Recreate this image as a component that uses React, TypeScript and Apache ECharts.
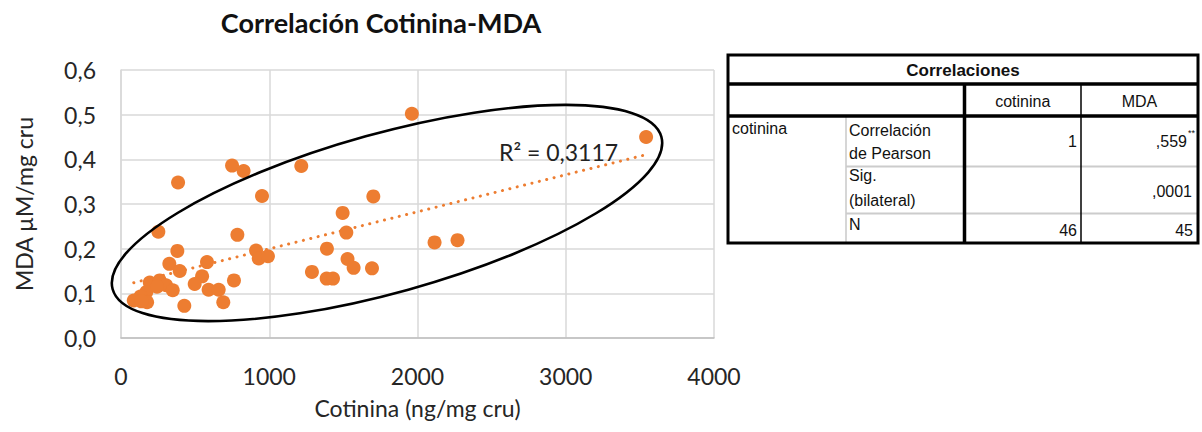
import React, { useEffect, useRef } from "react";
import * as echarts from "echarts";

// Cotinina (ng/mg cru) and MDA (µM/mg cru) per subject
const cotinina = [
  1962, 749, 827, 1216, 385, 951, 1702, 1495, 252, 785, 1520, 380, 911, 1389, 929,
  991, 326, 580, 1528, 1569, 1693, 396, 1288, 1387, 1430, 194, 261, 304, 547, 497,
  762, 349, 591, 659, 171, 131, 86, 176, 690, 427, 3542, 2115, 2270, 243, 138,
];
const mda = [
  0.502, 0.386, 0.374, 0.385, 0.348, 0.318, 0.317, 0.28, 0.238, 0.231, 0.236, 0.195,
  0.196, 0.2, 0.178, 0.183, 0.166, 0.17, 0.177, 0.157, 0.156, 0.15, 0.148, 0.133,
  0.133, 0.124, 0.129, 0.118, 0.138, 0.121, 0.129, 0.107, 0.108, 0.108, 0.103,
  0.093, 0.084, 0.08, 0.08, 0.072, 0.45, 0.214, 0.219, 0.115, 0.082,
];

const xTicks = [0, 1000, 2000, 3000, 4000];
const yTicks = [0, 0.1, 0.2, 0.3, 0.4, 0.5, 0.6];
const r2Label = "R² = 0,3117";

// SPSS correlation table content
const tableTitle = "Correlaciones";
const tableHeader = ["cotinina", "MDA"];
const rowVariable = "cotinina";
const statLabels = [["Correlación", "de Pearson"], ["Sig.", "(bilateral)"], ["N"]];
const cotininaCol = ["1", "", "46"];
const mdaCol = [",559", ",0001", "45"];

const ORANGE = "#ED7D31";
const CHART_FONT = "Lato";
const TABLE_FONT = "Liberation Sans";

function linearFit(xs: number[], ys: number[]) {
  const n = xs.length;
  const mx = xs.reduce((a, b) => a + b, 0) / n;
  const my = ys.reduce((a, b) => a + b, 0) / n;
  let sxy = 0;
  let sxx = 0;
  for (let i = 0; i < n; i++) {
    sxy += (xs[i] - mx) * (ys[i] - my);
    sxx += (xs[i] - mx) * (xs[i] - mx);
  }
  const slope = sxy / sxx;
  return { slope, intercept: my - slope * mx };
}

function tableGraphics() {
  const L = 728, R = 1198, T = 55, B = 243;
  const yTitle = 84, yHead = 116, yR1 = 166.5, yR2 = 213.5;
  const c2 = 846, c3 = 964.5, c4 = 1081;
  const els: any[] = [];
  const line = (x1: number, y1: number, x2: number, y2: number, stroke: string, w: number) =>
    els.push({ type: "line", shape: { x1, y1, x2, y2 }, style: { stroke, lineWidth: w }, silent: true });
  const text = (t: string, x: number, y: number, align: string, opts: any = {}) =>
    els.push({
      type: "text",
      x,
      y,
      style: {
        text: t,
        fill: "#111",
        font: `${opts.bold ? "bold " : ""}${opts.size || 16}px "${TABLE_FONT}"`,
        align,
        verticalAlign: "middle",
      },
      silent: true,
    });

  // light separators
  line(c2, yHead, c2, B, "#c8c8c8", 1.5);
  line(c2, yR1, R, yR1, "#cccccc", 2);
  line(c2, yR2, R, yR2, "#cccccc", 2);
  // dark rules
  line(c4, yTitle, c4, B, "#000", 1.5);
  line(c3, yTitle, c3, B, "#000", 3.5);
  line(L, yTitle, R, yTitle, "#000", 3.5);
  line(L, yHead, R, yHead, "#000", 3.5);
  els.push({
    type: "rect",
    shape: { x: L, y: T, width: R - L, height: B - T },
    style: { fill: "none", stroke: "#000", lineWidth: 3 },
    silent: true,
  });

  text(tableTitle, (L + R) / 2, 70, "center", { bold: true, size: 17 });
  text(tableHeader[0], (c3 + c4) / 2, 101, "center");
  text(tableHeader[1], (c4 + R) / 2, 101, "center");
  text(rowVariable, 732, 128, "left");

  const rowLines = [[130, 153], [175, 200], [224]];
  statLabels.forEach((lbls, i) => lbls.forEach((l, j) => text(l, 849, rowLines[i][j], "left")));
  const valY = [141, 191, 230];
  cotininaCol.forEach((v, i) => v && text(v, 1077, valY[i], "right"));
  const mdaRight = [1187, 1192, 1193];
  mdaCol.forEach((v, i) => text(v, mdaRight[i], valY[i], "right"));
  els.push({
    type: "text",
    x: 1188,
    y: 128,
    style: { text: "**", fill: "#111", font: `9px "${TABLE_FONT}"`, align: "left", verticalAlign: "top" },
    silent: true,
  });
  return els;
}

export default function App() {
  const ref = useRef<HTMLDivElement>(null);

  useEffect(() => {
    if (!ref.current) return;
    const chart = echarts.init(ref.current, null, { renderer: "svg" });

    const points = cotinina.map((x, i) => [x, mda[i]]);
    const { slope, intercept } = linearFit(cotinina, mda);
    const xMin = Math.min(...cotinina);
    const xMax = Math.max(...cotinina);
    const trend = [
      [xMin, intercept + slope * xMin],
      [xMax, intercept + slope * xMax],
    ];

    const labelColor = "#262626";

    chart.setOption({
      animation: false,
      backgroundColor: "#fff",
      textStyle: { fontFamily: CHART_FONT },
      title: {
        text: "Correlación Cotinina-MDA",
        left: 376,
        top: 4,
        textAlign: "center",
        textStyle: { fontFamily: CHART_FONT, fontWeight: "bold", fontSize: 27, color: "#111" },
      },
      grid: { left: 121, top: 70, width: 593, height: 268 },
      xAxis: {
        type: "value",
        min: xTicks[0],
        max: xTicks[xTicks.length - 1],
        interval: xTicks[1] - xTicks[0],
        name: "Cotinina (ng/mg cru)",
        nameLocation: "middle",
        nameGap: 58,
        nameTextStyle: { fontSize: 23, color: labelColor, fontFamily: CHART_FONT },
        axisLine: { show: true, lineStyle: { color: "#bfbfbf", width: 1.5 } },
        axisTick: { show: false },
        axisLabel: {
          fontSize: 23,
          color: labelColor,
          margin: 26,
          fontFamily: CHART_FONT,
          formatter: (v: number) => String(v),
        },
        splitLine: { show: true, lineStyle: { color: "#d9d9d9", width: 1.5 } },
      },
      yAxis: {
        type: "value",
        min: yTicks[0],
        max: yTicks[yTicks.length - 1],
        interval: 0.1,
        name: "MDA µM/mg cru",
        nameLocation: "middle",
        nameGap: 86,
        nameTextStyle: { fontSize: 23, color: labelColor, fontFamily: CHART_FONT },
        axisLine: { show: true, lineStyle: { color: "#d9d9d9", width: 1.5 } },
        axisTick: { show: false },
        axisLabel: {
          fontSize: 23,
          color: labelColor,
          margin: 25,
          fontFamily: CHART_FONT,
          formatter: (v: number) => v.toFixed(1).replace(".", ","),
        },
        splitLine: { show: true, lineStyle: { color: "#d9d9d9", width: 1.5 } },
      },
      series: [
        {
          type: "line",
          data: trend,
          symbol: "none",
          lineStyle: { color: ORANGE, width: 3, type: [0.1, 7.5], cap: "round" },
          z: 1,
        },
        {
          type: "scatter",
          data: points,
          symbolSize: 14,
          itemStyle: { color: ORANGE, opacity: 1 },
          z: 2,
        },
      ],
      graphic: [
        {
          type: "ellipse",
          x: 387,
          y: 213,
          rotation: 0.271,
          shape: { cx: 0, cy: 0, rx: 284.6, ry: 79.5 },
          style: { fill: "none", stroke: "#000", lineWidth: 2.6 },
          z: 10,
          silent: true,
        },
        {
          type: "text",
          x: 499,
          y: 152,
          style: {
            text: r2Label,
            fill: "#222",
            font: `23px "${CHART_FONT}"`,
            align: "left",
            verticalAlign: "middle",
          },
          z: 10,
          silent: true,
        },
        ...tableGraphics(),
      ],
    });

    return () => chart.dispose();
  }, []);

  return (
    <div
      ref={ref}
      style={{ position: "fixed", left: 0, top: 0, width: 1202, height: 432, background: "#fff" }}
    />
  );
}
